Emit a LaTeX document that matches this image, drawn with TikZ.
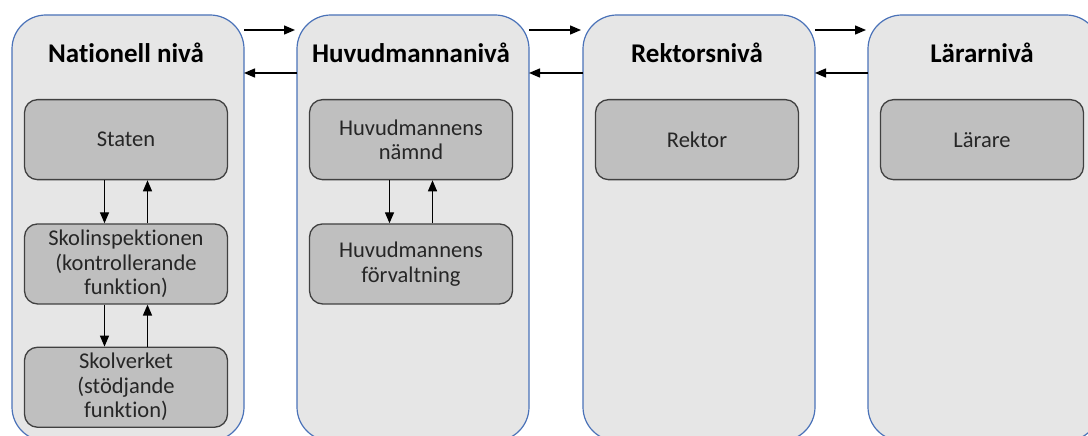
\documentclass[tikz,border=0pt]{standalone}
\usepackage{fontspec}
\setmainfont{Carlito}[Ligatures=NoCommon]
\usepackage{tikz}
\usetikzlibrary{arrows.meta,positioning}
\definecolor{tierfill}{HTML}{E6E6E6}
\definecolor{tierline}{HTML}{4A72B8}
\definecolor{unitfill}{HTML}{BFBFBF}
\definecolor{unitline}{HTML}{404040}
\definecolor{unittext}{HTML}{262626}
\tikzset{
  tier/.style={rounded corners=34pt, draw=tierline, line width=1.2pt, fill=tierfill, minimum width=232pt, minimum height=426pt, inner sep=0pt, outer sep=0pt},
  tiertitle/.style={font=\fontsize{27}{31}\selectfont\bfseries, text=black, inner sep=0pt},
  unitbox/.style={rounded corners=13pt, draw=unitline, line width=1.3pt, fill=unitfill, align=center, minimum width=203pt, minimum height=80pt, inner sep=2pt, text=unittext, font=\fontsize{22.5}{24.5}\selectfont},
  arrow/.style={-{Triangle[length=11pt, width=9pt]}, line width=1.4pt, draw=black}
}

\begin{document}
\begin{tikzpicture}[x=1pt, y=1pt, node distance=53pt]
  \useasboundingbox (0,0) rectangle (1088,436);
  \clip (0,0) rectangle (1088,436);
  \node[tier] (nat) at (128,208) {};
  \node[tier, right=of nat] (huv) {};
  \node[tier, right=54pt of huv] (rek) {};
  \node[tier, right=of rek] (lar) {};
  \node[tiertitle, xshift=-2pt] (natT) at ([yshift=-38pt]nat.north) {Nationell nivå};
  \node[tiertitle, xshift=-2pt] (huvT) at ([yshift=-38pt]huv.north) {Huvudmannanivå};
  \node[tiertitle, xshift=-2pt] (rekT) at ([yshift=-38pt]rek.north) {Rektorsnivå};
  \node[tiertitle, xshift=-2pt] (larT) at ([yshift=-38pt]lar.north) {Lärarnivå};
  \node[unitbox, below=84pt of nat.north, xshift=-2pt] (staten) {Staten};
  \node[unitbox, below=43pt of staten] (skolinsp) {Skolinspektionen\\(kontrollerande\\funktion)};
  \node[unitbox, below=42pt of skolinsp] (skolverk) {Skolverket\\(stödjande\\funktion)};
  \node[unitbox, below=84pt of huv.north, xshift=-2pt] (namnd) {Huvudmannens\\nämnd};
  \node[unitbox, below=43pt of namnd] (forv) {Huvudmannens\\förvaltning};
  \node[unitbox, below=84pt of rek.north, xshift=-2pt] (rektor) {Rektor};
  \node[unitbox, below=84pt of lar.north, xshift=-2pt] (larare) {Lärare};
  \draw[arrow] ([xshift=-21.5pt]staten.south) -- ([xshift=-21.5pt]skolinsp.north);
  \draw[arrow] ([xshift=21.5pt]skolinsp.north) -- ([xshift=21.5pt]staten.south);
  \draw[arrow] ([xshift=-21.5pt]skolinsp.south) -- ([xshift=-21.5pt]skolverk.north);
  \draw[arrow] ([xshift=21.5pt]skolverk.north) -- ([xshift=21.5pt]skolinsp.south);
  \draw[arrow] ([xshift=-21.5pt]namnd.south) -- ([xshift=-21.5pt]forv.north);
  \draw[arrow] ([xshift=21.5pt]forv.north) -- ([xshift=21.5pt]namnd.south);
  \draw[arrow] ([yshift=-15pt]nat.north east) -- ([yshift=-15pt,xshift=-2pt]huv.north west);
  \draw[arrow] ([yshift=-58pt]huv.north west) -- ([yshift=-58pt]nat.north east);
  \draw[arrow] ([yshift=-15pt]huv.north east) -- ([yshift=-15pt,xshift=-2pt]rek.north west);
  \draw[arrow] ([yshift=-58pt]rek.north west) -- ([yshift=-58pt]huv.north east);
  \draw[arrow] ([yshift=-15pt]rek.north east) -- ([yshift=-15pt,xshift=-2pt]lar.north west);
  \draw[arrow] ([yshift=-58pt]lar.north west) -- ([yshift=-58pt]rek.north east);
\end{tikzpicture}
\end{document}
